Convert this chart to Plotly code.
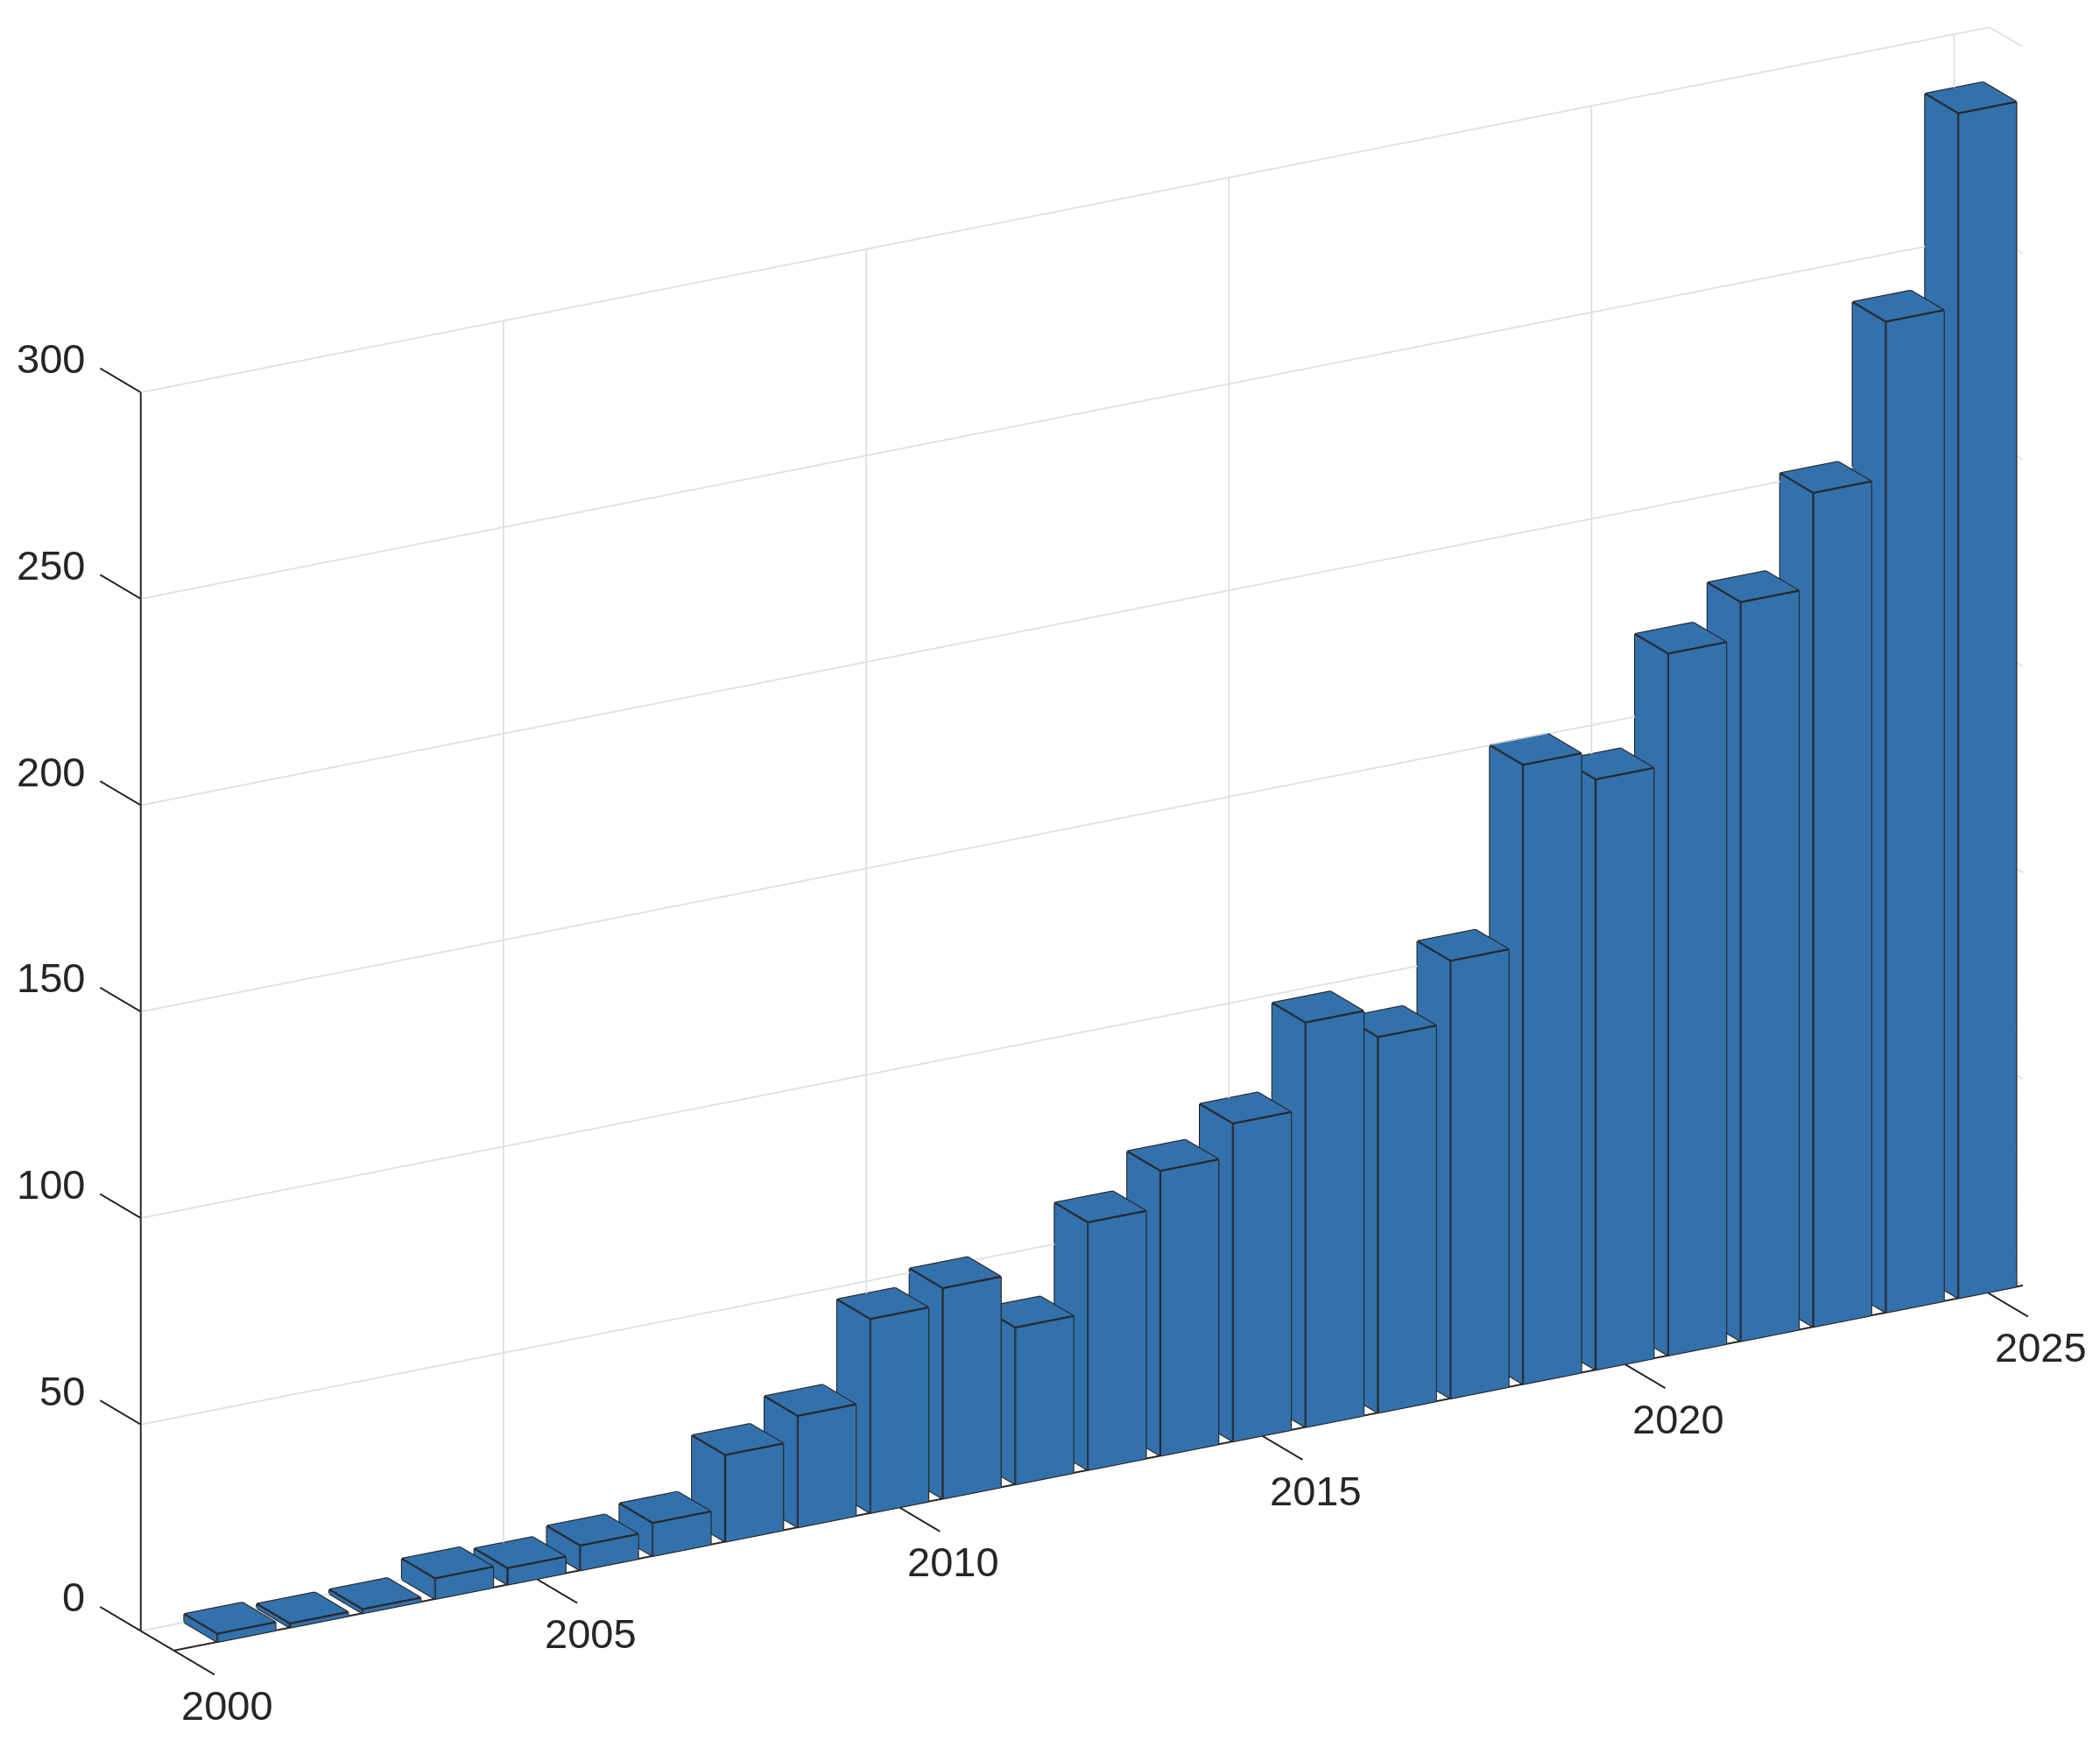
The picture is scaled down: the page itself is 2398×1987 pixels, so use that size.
import math
import plotly.graph_objects as go

years = list(range(2001, 2026))
values = [2, 1, 1, 5, 4, 6, 8, 21, 27, 47, 51, 38, 60, 69, 77, 98, 91, 106, 150, 143, 170, 179, 202, 240, 287]
x_ticks = [2000, 2005, 2010, 2015, 2020, 2025]
z_ticks = [0, 50, 100, 150, 200, 250, 300]

BAR_COLOR = "#3371AD"
EDGE_COLOR = "#262626"
GRID_COLOR = "#DFDFDF"
TEXT_COLOR = "#262626"
FONT = "Liberation Sans"
FONT_SIZE = 47

X_MIN, X_MAX = 2000, 2025.49
HALF = 0.4
TICK = 1.23
AZ, EL = math.radians(60), math.radians(20)
EYE_DIST = 2.5
SHIFT_RIGHT, SHIFT_UP = 37.0, 35.8  # pixels the scene moves from the page centre
SCALE = 1000.0

# scene ranges are wider than the drawn box so the tick marks are not clipped
xr = (1999.5, 2026.0)
yr = (-1.4, 2.4)
zr = (-2, 302)
PX = (95.64 * 1.0066, 76.0, 5.023 * 1.0054)
aspect = dict(
    x=(xr[1] - xr[0]) * PX[0] / 1000,
    y=(yr[1] - yr[0]) * PX[1] / 1000,
    z=(zr[1] - zr[0]) * PX[2] / 1000,
)

fig = go.Figure()


def add_lines(segments, color, width):
    xs, ys, zs = [], [], []
    for a, b in segments:
        xs += [a[0], b[0], None]
        ys += [a[1], b[1], None]
        zs += [a[2], b[2], None]
    fig.add_trace(go.Scatter3d(x=xs, y=ys, z=zs, mode="lines",
                               line=dict(color=color, width=width),
                               hoverinfo="skip", showlegend=False))


grid = []
for t in x_ticks[1:]:
    grid.append(((t, 1, 0), (t, 1, 300)))
    grid.append(((t, 0, 0), (t, 1, 0)))
for z in z_ticks:
    grid.append(((X_MIN, 1, z), (X_MAX, 1, z)))
    grid.append(((X_MAX, 1, z), (X_MAX, 0, z)))
add_lines(grid, GRID_COLOR, 3.5)

axes = [((X_MIN, 1, 0), (X_MIN, 1, 300)), ((X_MIN, 0, 0), (X_MAX, 0, 0)), ((X_MIN, 1, 0), (X_MIN, 0, 0))]
for z in z_ticks:
    axes.append(((X_MIN, 1, z), (X_MIN, 1 + TICK, z)))
for t in x_ticks:
    axes.append(((t, 0, 0), (t, -TICK, 0)))
add_lines(axes, EDGE_COLOR, 4)

vx, vy, vz, ii, jj, kk = [], [], [], [], [], []
edges = []
FACES = [(0, 1, 2), (0, 2, 3), (4, 5, 6), (4, 6, 7), (0, 1, 5), (0, 5, 4),
         (1, 2, 6), (1, 6, 5), (2, 3, 7), (2, 7, 6), (3, 0, 4), (3, 4, 7)]
for year, v in zip(years, values):
    n = len(vx)
    x0, x1 = year - HALF, year + HALF
    c = [(x0, 0, 0), (x1, 0, 0), (x1, 1, 0), (x0, 1, 0), (x0, 0, v), (x1, 0, v), (x1, 1, v), (x0, 1, v)]
    for p in c:
        vx.append(p[0]); vy.append(p[1]); vz.append(p[2])
    for f in FACES:
        ii.append(n + f[0]); jj.append(n + f[1]); kk.append(n + f[2])
    for a, b in [(0, 1), (1, 5), (5, 4), (4, 0), (4, 7), (7, 6), (6, 5), (0, 3), (3, 7)]:
        edges.append((c[a], c[b]))

fig.add_trace(go.Mesh3d(x=vx, y=vy, z=vz, i=ii, j=jj, k=kk, color=BAR_COLOR, flatshading=True,
                        lighting=dict(ambient=1, diffuse=0, specular=0, roughness=1, fresnel=0),
                        hoverinfo="skip", showlegend=False))
add_lines(edges, EDGE_COLOR, 4.5)

annotations = []
for z in z_ticks:
    annotations.append(dict(x=X_MIN, y=1 + TICK, z=z, text=str(z), showarrow=False, xanchor="right",
                            yanchor="middle", xshift=-15, yshift=11,
                            font=dict(family=FONT, size=FONT_SIZE, color=TEXT_COLOR)))
for t in x_ticks:
    annotations.append(dict(x=t, y=-TICK, z=0, text=str(t), showarrow=False, xanchor="center",
                            yanchor="middle", xshift=15, yshift=-35,
                            font=dict(family=FONT, size=FONT_SIZE, color=TEXT_COLOR)))

hidden = dict(visible=False, showgrid=False, zeroline=False, showbackground=False, showspikes=False)
view = (-math.cos(EL) * math.cos(AZ), -math.cos(EL) * math.sin(AZ), math.sin(EL))
right = (math.sin(AZ), -math.cos(AZ), 0.0)
up = (math.sin(EL) * math.cos(AZ), math.sin(EL) * math.sin(AZ), math.cos(EL))
center = [-(SHIFT_RIGHT * right[i] + SHIFT_UP * up[i]) / SCALE for i in range(3)]
eye = [center[i] + EYE_DIST * view[i] for i in range(3)]
fig.update_layout(
    width=2398, height=1987, margin=dict(l=0, r=0, t=0, b=0), paper_bgcolor="white", showlegend=False,
    scene=dict(
        xaxis=dict(range=xr, **hidden), yaxis=dict(range=yr, **hidden), zaxis=dict(range=zr, **hidden),
        aspectmode="manual", aspectratio=aspect,
        domain=dict(x=[0, 1], y=[0, 1]),
        camera=dict(projection=dict(type="orthographic"),
                    eye=dict(x=eye[0], y=eye[1], z=eye[2]), up=dict(x=0, y=0, z=1),
                    center=dict(x=center[0], y=center[1], z=center[2])),
        annotations=annotations, bgcolor="white",
    ),
)
fig.write_html("out.html", post_script="document.body.style.margin='0';", config=dict(displayModeBar=False))
